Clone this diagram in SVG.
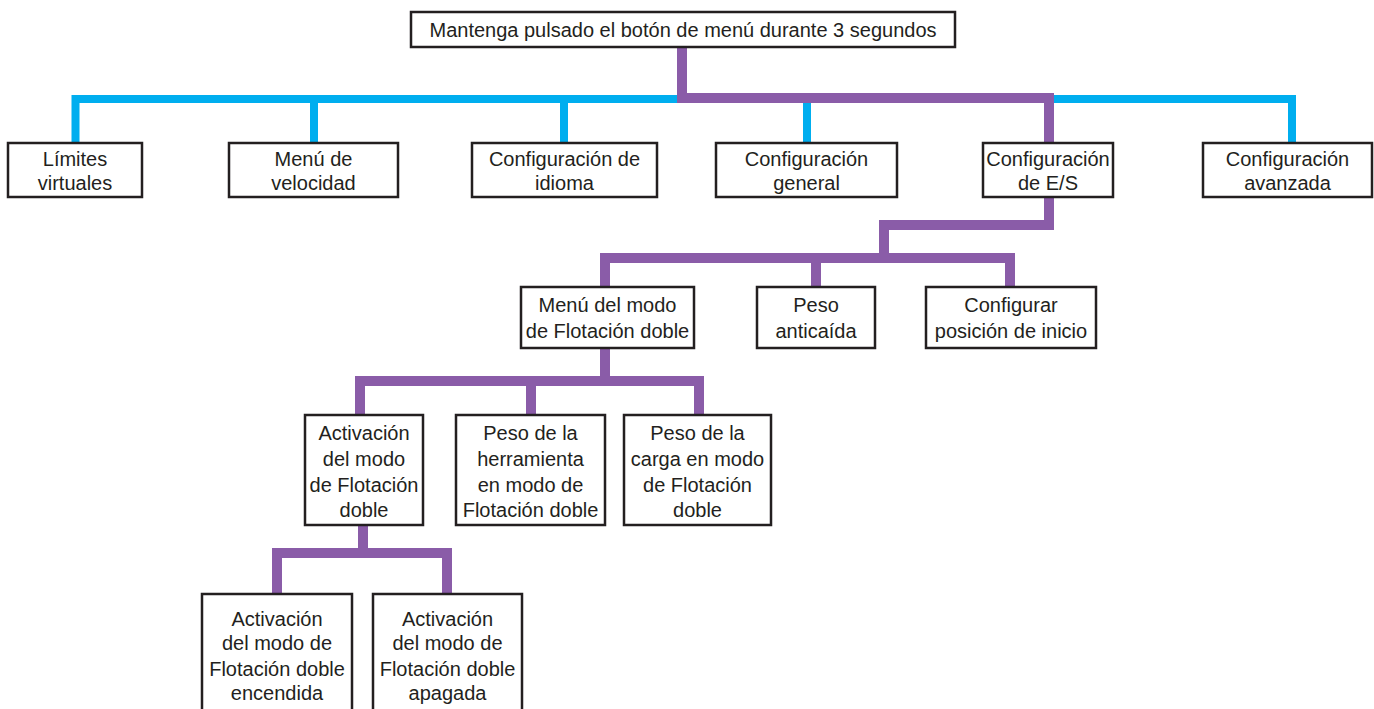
<svg xmlns="http://www.w3.org/2000/svg" width="1374" height="709" viewBox="0 0 1374 709">
<style>
.box{fill:#fff;stroke:#231f20;stroke-width:2.5}
.t{font-family:"Liberation Sans",Arial,sans-serif;font-size:20px;fill:#231f20;text-anchor:middle}
.cy{fill:none;stroke:#00aeef;stroke-width:8;stroke-linejoin:miter}
.pu{fill:none;stroke:#8a5ca8;stroke-width:10;stroke-linejoin:miter}
</style>
<rect width="1374" height="709" fill="#fff"/>
<g id="connectors">
<path class="cy" d="M75.5,143 V99 H1292 V143"/>
<path class="cy" d="M314,99 V143"/>
<path class="cy" d="M564,99 V143"/>
<path class="cy" d="M807,99 V143"/>
<path class="pu" d="M682,47 V98 H1049 V143"/>
<path class="pu" d="M1049,197 V225 H884 V258"/>
<path class="pu" d="M605,287 V258 H1010 V287"/>
<path class="pu" d="M816,258 V287"/>
<path class="pu" d="M605,348 V381"/>
<path class="pu" d="M360,415 V381 H699 V415"/>
<path class="pu" d="M531,381 V415"/>
<path class="pu" d="M363,525 V553"/>
<path class="pu" d="M277,594 V553 H447 V594"/>
</g>
<g id="root"><rect class="box" x="411" y="12" width="544" height="35"/><text class="t" x="683" y="37">Mantenga pulsado el botón de menú durante 3 segundos</text></g>
<g id="limites"><rect class="box" x="8" y="143" width="134" height="54"/><text class="t" x="75" y="166">Límites</text><text class="t" x="75" y="190">virtuales</text></g>
<g id="velocidad"><rect class="box" x="229" y="143" width="169" height="54"/><text class="t" x="313.5" y="166">Menú de</text><text class="t" x="313.5" y="190">velocidad</text></g>
<g id="idioma"><rect class="box" x="472" y="143" width="185" height="54"/><text class="t" x="564.5" y="166">Configuración de</text><text class="t" x="564.5" y="190">idioma</text></g>
<g id="general"><rect class="box" x="716" y="143" width="181" height="54"/><text class="t" x="806.5" y="166">Configuración</text><text class="t" x="806.5" y="190">general</text></g>
<g id="es"><rect class="box" x="983" y="143" width="130" height="54"/><text class="t" x="1048" y="166">Configuración</text><text class="t" x="1048" y="190">de E/S</text></g>
<g id="avanzada"><rect class="box" x="1203" y="143" width="169" height="54"/><text class="t" x="1287.5" y="166">Configuración</text><text class="t" x="1287.5" y="190">avanzada</text></g>
<g id="menu-flot"><rect class="box" x="521" y="287" width="173" height="61"/><text class="t" x="607.5" y="312">Menú del modo</text><text class="t" x="607.5" y="338">de Flotación doble</text></g>
<g id="anticaida"><rect class="box" x="757" y="287" width="118" height="61"/><text class="t" x="816" y="312">Peso</text><text class="t" x="816" y="338">anticaída</text></g>
<g id="inicio"><rect class="box" x="926" y="287" width="170" height="61"/><text class="t" x="1011" y="312">Configurar</text><text class="t" x="1011" y="338">posición de inicio</text></g>
<g id="activacion"><rect class="box" x="305" y="415" width="118" height="110"/><text class="t" x="364" y="440">Activación</text><text class="t" x="364" y="466">del modo</text><text class="t" x="364" y="492">de Flotación</text><text class="t" x="364" y="517">doble</text></g>
<g id="herramienta"><rect class="box" x="456" y="415" width="149" height="110"/><text class="t" x="530.5" y="440">Peso de la</text><text class="t" x="530.5" y="466">herramienta</text><text class="t" x="530.5" y="492">en modo de</text><text class="t" x="530.5" y="517">Flotación doble</text></g>
<g id="carga"><rect class="box" x="624" y="415" width="147" height="110"/><text class="t" x="697.5" y="440">Peso de la</text><text class="t" x="697.5" y="466">carga en modo</text><text class="t" x="697.5" y="492">de Flotación</text><text class="t" x="697.5" y="517">doble</text></g>
<g id="encendida"><rect class="box" x="202" y="594" width="150" height="120"/><text class="t" x="277" y="626">Activación</text><text class="t" x="277" y="650">del modo de</text><text class="t" x="277" y="676">Flotación doble</text><text class="t" x="277" y="700">encendida</text></g>
<g id="apagada"><rect class="box" x="373" y="594" width="149" height="120"/><text class="t" x="447.5" y="626">Activación</text><text class="t" x="447.5" y="650">del modo de</text><text class="t" x="447.5" y="676">Flotación doble</text><text class="t" x="447.5" y="700">apagada</text></g>
</svg>
